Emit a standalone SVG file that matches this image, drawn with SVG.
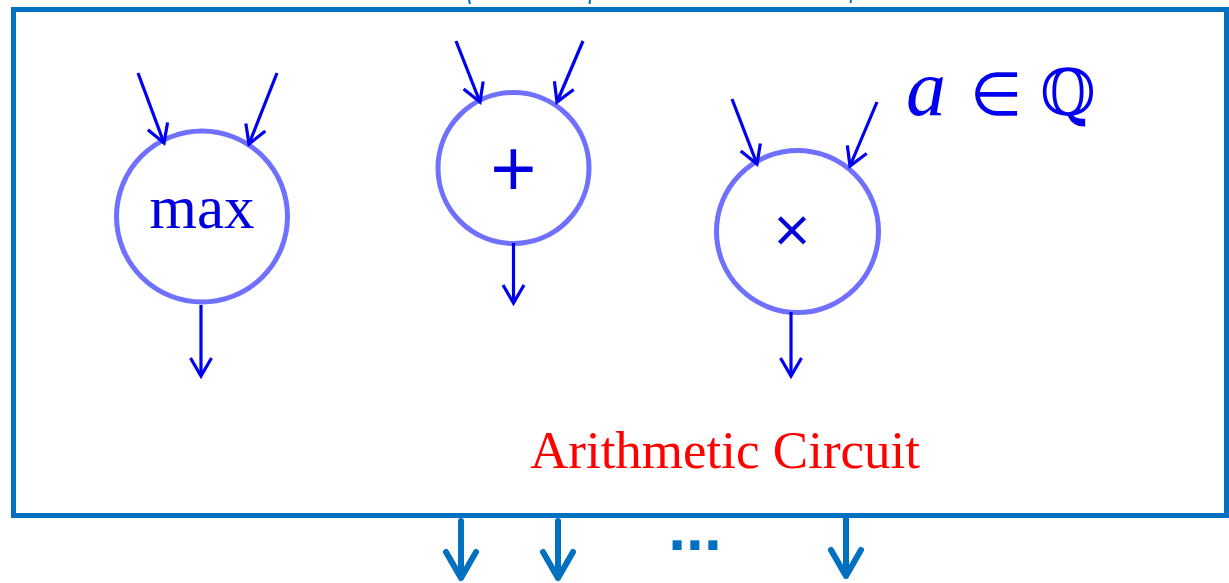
<svg xmlns="http://www.w3.org/2000/svg" width="1229" height="583" viewBox="0 0 1229 583">
<style>
.frame{fill:none;stroke:#0070C0;stroke-width:5}
.gate{fill:#fff;stroke:#7070FF;stroke-width:5}
.wire{fill:none;stroke:#0000EE;stroke-width:3.2;marker-end:url(#ah)}
.out{fill:none;stroke:#0070C0;stroke-width:6;stroke-linecap:round;stroke-linejoin:round}
.lbl{fill:#0000DD;text-anchor:middle}
</style>
<defs>
<marker id="ah" markerUnits="userSpaceOnUse" markerWidth="30" markerHeight="30" viewBox="-20 -15 25 30" refX="0" refY="0" orient="auto">
<path d="M-18,-10.5 L0,0 L-18,10.5" fill="none" stroke="#0000EE" stroke-width="3.2"/>
</marker>
</defs>
<g id="frame">
<rect class="frame" x="13.5" y="9.5" width="1213" height="506"/>
<path d="M469,0 L470,4 M590,0 L589.5,4 M851,0 L850.5,3" stroke="#0070C0" stroke-width="2"/>
</g>
<g id="node-max">
<circle class="gate" cx="202" cy="216.5" r="85.5"/>
<text class="lbl" x="202" y="228" font-family="Liberation Serif, serif" font-size="61">max</text>
</g>
<g id="node-plus">
<circle class="gate" cx="513.5" cy="168" r="75.5"/>
<text class="lbl" x="513.5" y="198" font-family="Open Sans, sans-serif" font-weight="400" font-size="82">+</text>
</g>
<g id="node-times">
<circle class="gate" cx="797.5" cy="231.5" r="81"/>
<text class="lbl" x="792" y="253" font-family="Open Sans, sans-serif" font-weight="400" font-size="64">×</text>
</g>
<g id="const">
<text x="906" y="115" fill="#0000EE" font-size="62"><tspan font-family="Liberation Serif, serif" font-style="italic" font-size="80">a</tspan><tspan x="970" font-family="DejaVu Sans, sans-serif" font-size="60">∈</tspan><tspan x="1040" font-family="DejaVu Serif, serif" font-size="64">ℚ</tspan></text>
</g>
<g id="label">
<text x="530" y="468" fill="#FF0000" font-family="Liberation Serif, serif" font-size="53">Arithmetic Circuit</text>
</g>
<g id="connectors">
<path class="wire" d="M138,73 L164,143"/>
<path class="wire" d="M277,73 L249,144"/>
<path class="wire" d="M201,305 L201,376"/>
<path class="wire" d="M456,41 L480,102"/>
<path class="wire" d="M583,41 L557,102"/>
<path class="wire" d="M513.5,243 L513.5,303"/>
<path class="wire" d="M732,99 L757,164"/>
<path class="wire" d="M877,102 L850,166"/>
<path class="wire" d="M791,312 L791,376"/>
<path class="out" d="M461,521 L461,578 M446,552 L461,578 L476,552"/>
<path class="out" d="M558,521 L558,578 M543,552 L558,578 L573,552"/>
<path class="out" d="M846,517 L846,576 M831,550 L846,576 L861,550"/>
</g>
<text x="695" y="550" fill="#0070C0" font-family="Liberation Sans, sans-serif" font-weight="bold" font-size="64" text-anchor="middle">...</text>
</svg>
